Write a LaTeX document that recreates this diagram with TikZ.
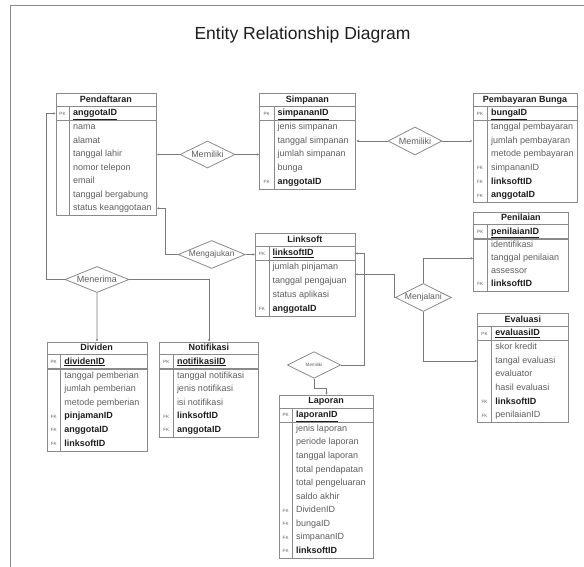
\documentclass[tikz,border=0pt]{standalone}
\usepackage{fontspec}
\setmainfont{Liberation Sans}
\usetikzlibrary{shapes.geometric,arrows.meta,calc}

\definecolor{edge}{HTML}{7A7A7A}
\definecolor{boxline}{HTML}{8A8A8A}
\definecolor{attr}{HTML}{5E5E5E}
\definecolor{keytext}{HTML}{1E1E1E}

\tikzset{
  tbl/.style={draw=boxline, line width=0.8pt, inner sep=0pt},
  hdr/.style={font=\fontsize{9}{10}\selectfont\bfseries, text=keytext, inner sep=0pt,
    text height=6.6pt, text depth=1.9pt},
  attn/.style={font=\fontsize{9}{10}\selectfont, text=attr, inner sep=0pt,
    text height=6.6pt, text depth=1.9pt},
  attb/.style={font=\fontsize{9}{10}\selectfont\bfseries, text=keytext, inner sep=0pt,
    text height=6.6pt, text depth=1.9pt},
  keylbl/.style={font=\fontsize{4.6}{5}\selectfont, text=attr, inner sep=0pt,
    text height=3.4pt, text depth=0pt},
  rel/.style={diamond, draw=boxline, line width=0.8pt, aspect=2.4, inner sep=0pt,
    font=\fontsize{9}{10}\selectfont, text=attr},
  conn/.style={draw=edge, line width=0.8pt, -{Latex[length=2.4pt,width=2.4pt]}},
}

% entity table: name, left, top, width, key column width, title, primary key, rows (key/style/text)
\newcommand{\entity}[8]{%
  \foreach \dummy [count=\n] in {#8}{\xdef\entrows{\n}}%
  \pgfmathsetmacro\enth{27.3+\entrows*\rowh}%
  \node[tbl, minimum width=#4pt, minimum height=\enth pt, anchor=north west] (#1) at (#2,#3) {};
  \draw[boxline, line width=0.8pt] (#2,#3+13) -- ++(#4,0);
  \draw[boxline, line width=1.3pt] (#2,#3+27.3) -- ++(#4,0);
  \draw[boxline, line width=0.8pt] (#2+#5,#3+13) -- (#2+#5,#3+\enth);
  \node[hdr] (#1-title) at (#2+#4/2,#3+6.6) {#6};
  \node[keylbl] (#1-pklbl) at (#2+#5/2,#3+20.15) {PK};
  \node[attb, anchor=west] (#1-pk) at (#2+#5+3.5,#3+20.15) {\underline{#7}};
  \foreach \k/\s/\t [count=\i] in {#8}{%
    \node[\s, anchor=west] (#1-\i) at (#2+#5+3.5,#3+27.3+\i*\rowh-\rowh/2) {\t};
    \node[keylbl] (#1-k\i) at (#2+#5/2,#3+27.3+\i*\rowh-\rowh/2) {\k};
  }%
}

\begin{document}
\begin{tikzpicture}[x=1pt,y=-1pt]
\useasboundingbox (0,0) rectangle (584,567);

% page frame
\draw[boxline, line width=0.9pt] (10.5,567) -- (10.5,5) -- (584,5);

\node[font=\fontsize{17.5}{20}\selectfont, text=keytext, anchor=base] (title) at (302.5,40) {Entity Relationship Diagram};

% entities
\def\rowh{13.5}
\entity{pendaftaran}{55.7}{93.3}{100.3}{13.6}{Pendaftaran}{anggotaID}{%
  /attn/nama, /attn/alamat, /attn/tanggal lahir, /attn/nomor telepon, /attn/email,
  /attn/tanggal bergabung, /attn/status keanggotaan}

\def\rowh{13.6}
\entity{simpanan}{259.3}{93.3}{96}{14.7}{Simpanan}{simpananID}{%
  /attn/jenis simpanan, /attn/tanggal simpanan, /attn/jumlah simpanan, /attn/bunga,
  FK/attb/anggotaID}

\entity{pembayaran}{472.7}{93.3}{104.6}{14.6}{Pembayaran Bunga}{bungaID}{%
  /attn/tanggal pembayaran, /attn/jumlah pembayaran, /attn/metode pembayaran,
  FK/attn/simpananID, FK/attb/linksoftID, FK/attb/anggotaID}

\def\rowh{13.75}
\entity{linksoft}{255}{233.3}{99.5}{14}{Linksoft}{linksoftID}{%
  /attn/jumlah pinjaman, /attn/tanggal pengajuan, /attn/status aplikasi,
  FK/attb/anggotaID}

\def\rowh{12.9}
\entity{penilaian}{473.3}{211.7}{95}{14}{Penilaian}{penilaianID}{%
  /attn/identifikasi, /attn/tanggal penilaian, /attn/assessor, FK/attb/linksoftID}

\def\rowh{13.6}
\entity{evaluasi}{477.3}{313.3}{91}{14.4}{Evaluasi}{evaluasiID}{%
  /attn/skor kredit, /attn/tangal evaluasi, /attn/evaluator, /attn/hasil evaluasi,
  FK/attb/linksoftID, FK/attn/penilaianID}

\entity{dividen}{46.7}{341.7}{100}{14}{Dividen}{dividenID}{%
  /attn/tanggal pemberian, /attn/jumlah pemberian, /attn/metode pemberian,
  FK/attb/pinjamanID, FK/attb/anggotaID, FK/attb/linksoftID}

\entity{notifikasi}{159.3}{341.7}{99}{14}{Notifikasi}{notifikasiID}{%
  /attn/tanggal notifikasi, /attn/jenis notifikasi, /attn/isi notifikasi,
  FK/attb/linksoftID, FK/attb/anggotaID}

\def\rowh{13.56}
\entity{laporan}{279}{395}{94.3}{13.3}{Laporan}{laporanID}{%
  /attn/jenis laporan, /attn/periode laporan, /attn/tanggal laporan,
  /attn/total pendapatan, /attn/total pengeluaran, /attn/saldo akhir,
  FK/attn/DividenID, FK/attn/bungaID, FK/attn/simpananID, FK/attb/linksoftID}

% relationships
\node[rel, minimum width=55pt, minimum height=27pt] (m1) at (207.5,154.5) {Memiliki};
\node[rel, minimum width=54pt, minimum height=28pt] (m2) at (415,141) {Memiliki};
\node[rel, minimum width=67pt, minimum height=28pt, font=\fontsize{8.4}{10}\selectfont] (mg) at (211.7,254.5) {Mengajukan};
\node[rel, minimum width=64pt, minimum height=26pt] (mn) at (97,279.5) {Menerima};
\node[rel, minimum width=53pt, minimum height=28pt, font=\fontsize{8.6}{10}\selectfont] (mj) at (423.3,297.5) {Menjalani};
\node[rel, minimum width=53.4pt, minimum height=26.6pt, font=\fontsize{4.6}{5}\selectfont] (sm) at (314,365) {Memiliki};

% connectors
\draw[conn] (m1.west) -- (m1.west -| pendaftaran.east);
\draw[conn] (m1.east) -- (m1.east -| simpanan.west);
\draw[conn] (m2.west) -- (m2.west -| simpanan.east);
\draw[conn] (m2.east) -- (m2.east -| pembayaran.west);
\draw[conn] (mg.east) -- (mg.east -| linksoft.west);
\draw[conn] (mg.west) -- ++(-12,0) |- (pendaftaran-7 -| pendaftaran.east);
\draw[conn] (mn.west) -- ++(-18.5,0) |- (pendaftaran-pk -| pendaftaran.west);
\draw[conn] (mn.south) -- (dividen.north);
\draw[conn] (mn.east) -| (notifikasi.north);
\draw[conn] (sm.east) -- ++(23,0) |- (linksoft-pk -| linksoft.east);
\draw[conn] (sm.south) -- ++(0,9.5) -| (laporan.north);
\coordinate (lk-mid) at ($(linksoft-1 -| linksoft.east)!0.5!(linksoft-2 -| linksoft.east)$);
\draw[conn] (mj.west) |- (lk-mid);
\draw[conn] (mj.north) |- (penilaian-2 -| penilaian.west);
\draw[conn] (mj.south) |- (evaluasi-2 -| evaluasi.west);
\end{tikzpicture}
\end{document}
